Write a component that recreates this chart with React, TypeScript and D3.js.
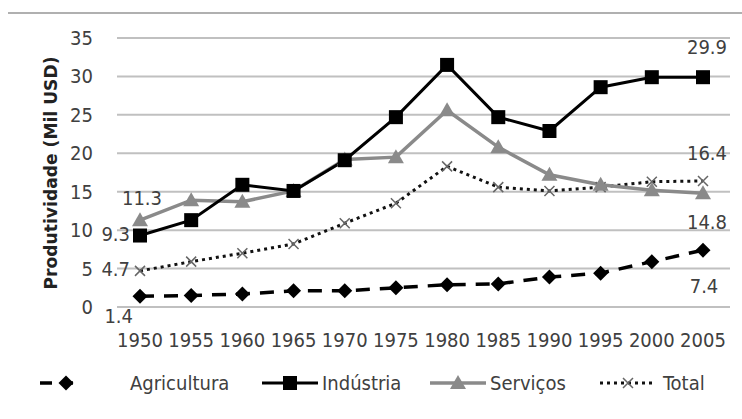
import React from "react";
import * as d3 from "d3";

const years = ["1950","1955","1960","1965","1970","1975","1980","1985","1990","1995","2000","2005"];
const agricultura = [1.4, 1.5, 1.7, 2.1, 2.1, 2.5, 2.9, 3.0, 3.9, 4.4, 5.9, 7.4];
const industria = [9.3, 11.3, 15.9, 15.1, 19.1, 24.7, 31.5, 24.7, 22.9, 28.6, 29.9, 29.9];
const servicos = [11.3, 13.9, 13.7, 15.1, 19.2, 19.5, 25.6, 20.8, 17.2, 15.9, 15.2, 14.8];
const total = [4.7, 5.9, 7.0, 8.2, 10.9, 13.5, 18.3, 15.6, 15.1, 15.6, 16.3, 16.4];
const yTicks = [0, 5, 10, 15, 20, 25, 30, 35];
const yTitle = "Produtividade (Mil USD)";
const legendNames = ["Agricultura", "Indústria", "Serviços", "Total"];

const FONT = "'Liberation Sans Narrow', 'DejaVu Sans Condensed', 'Liberation Sans', sans-serif";
const TXT = "#404040";

export default function App() {
  const x = d3.scalePoint<string>().domain(years).range([140, 703]);
  const y = d3.scaleLinear().domain([0, 35]).range([307, 38]);
  const line = d3.line<number>().x((_, i) => x(years[i])!).y((d) => y(d));

  const sq = (cx: number, cy: number, k: string) => (
    <rect key={k} x={cx - 7} y={cy - 7} width={14} height={14} fill="#000" />
  );
  const dia = (cx: number, cy: number, k: string) => (
    <path key={k} d={`M${cx},${cy - 7.5}L${cx + 7.5},${cy}L${cx},${cy + 7.5}L${cx - 7.5},${cy}Z`} fill="#000" />
  );
  const tri = (cx: number, cy: number, k: string) => (
    <path key={k} d={`M${cx},${cy - 8}L${cx + 8},${cy + 6}L${cx - 8},${cy + 6}Z`} fill="#8a8a8a" />
  );
  const xm = (cx: number, cy: number, k: string) => (
    <path key={k} d={`M${cx - 5},${cy - 5}L${cx + 5},${cy + 5}M${cx + 5},${cy - 5}L${cx - 5},${cy + 5}`} stroke="#666" strokeWidth={1.5} fill="none" />
  );

  const last = years.length - 1;
  const xl = x(years[last])!;
  const x0 = x(years[0])!;

  const legendY = 383;
  const legItems = [
    { lx: 40, tx: 130, name: legendNames[0] },
    { lx: 262, tx: 322, name: legendNames[1] },
    { lx: 430, tx: 490, name: legendNames[2] },
    { lx: 600, tx: 663, name: legendNames[3] },
  ];

  return (
    <svg width={742} height={419} style={{ position: "absolute", left: 0, top: 0, display: "block", background: "#fff" }} fontFamily={FONT}>
      <line x1={8} x2={742} y1={13} y2={13} stroke="#b0b0b0" strokeWidth={2} />
      {yTicks.map((t) => (
        <g key={t}>
          <line x1={117} x2={730} y1={y(t)} y2={y(t)} stroke="#c0c0c0" strokeWidth={2} />
          <text x={93} y={y(t)} dy="0.35em" textAnchor="end" fontSize={20} fill={TXT}>{t}</text>
        </g>
      ))}
      {years.map((yr) => (
        <text key={yr} x={x(yr)} y={347} textAnchor="middle" fontSize={20} fill={TXT}>{yr}</text>
      ))}
      <text transform="translate(57,173) rotate(-90)" textAnchor="middle" fontSize={17} fontWeight="bold" fill="#222" textLength={233} lengthAdjust="spacingAndGlyphs">{yTitle}</text>

      <path d={line(agricultura)!} fill="none" stroke="#000" strokeWidth={3.5} strokeDasharray="14 10" />
      <path d={line(total)!} fill="none" stroke="#111" strokeWidth={3} strokeDasharray="3 4" />
      <path d={line(servicos)!} fill="none" stroke="#8a8a8a" strokeWidth={3.5} />
      <path d={line(industria)!} fill="none" stroke="#000" strokeWidth={3} />

      {agricultura.map((v, i) => dia(x(years[i])!, y(v), "a" + i))}
      {total.map((v, i) => xm(x(years[i])!, y(v), "t" + i))}
      {servicos.map((v, i) => tri(x(years[i])!, y(v), "s" + i))}
      {industria.map((v, i) => sq(x(years[i])!, y(v), "i" + i))}

      <g fontSize={20} fill={TXT}>
        <text x={x0 + 2} y={y(servicos[0]) - 22} dy="0.35em" textAnchor="middle">{servicos[0]}</text>
        <text x={x0 - 10} y={y(industria[0]) - 2} dy="0.35em" textAnchor="end">{industria[0]}</text>
        <text x={x0 - 10} y={y(total[0]) - 2} dy="0.35em" textAnchor="end">{total[0]}</text>
        <text x={x0 - 7} y={y(agricultura[0]) + 20} dy="0.35em" textAnchor="end">{agricultura[0]}</text>
        <text x={xl + 4} y={y(industria[last]) - 30} dy="0.35em" textAnchor="middle">{industria[last]}</text>
        <text x={xl + 4} y={y(total[last]) - 28} dy="0.35em" textAnchor="middle">{total[last]}</text>
        <text x={xl + 4} y={y(servicos[last]) + 29} dy="0.35em" textAnchor="middle">{servicos[last]}</text>
        <text x={xl + 1} y={y(agricultura[last]) + 36} dy="0.35em" textAnchor="middle">{agricultura[last]}</text>
      </g>

      <g>
        <line x1={legItems[0].lx} x2={legItems[0].lx + 38} y1={legendY} y2={legendY} stroke="#000" strokeWidth={3.5} strokeDasharray="12 9" />
        {dia(legItems[0].lx + 26, legendY, "ld")}
        <line x1={legItems[1].lx} x2={legItems[1].lx + 56} y1={legendY} y2={legendY} stroke="#000" strokeWidth={3} />
        {sq(legItems[1].lx + 28, legendY, "ls")}
        <line x1={legItems[2].lx} x2={legItems[2].lx + 56} y1={legendY} y2={legendY} stroke="#8a8a8a" strokeWidth={3.5} />
        {tri(legItems[2].lx + 28, legendY, "lt")}
        <line x1={legItems[3].lx} x2={legItems[3].lx + 56} y1={legendY} y2={legendY} stroke="#111" strokeWidth={3} strokeDasharray="3 4" />
        {xm(legItems[3].lx + 28, legendY, "lx")}
        {legItems.map((it) => (
          <text key={it.name} x={it.tx} y={legendY} dy="0.35em" fontSize={20} fill={TXT}>{it.name}</text>
        ))}
      </g>
    </svg>
  );
}
